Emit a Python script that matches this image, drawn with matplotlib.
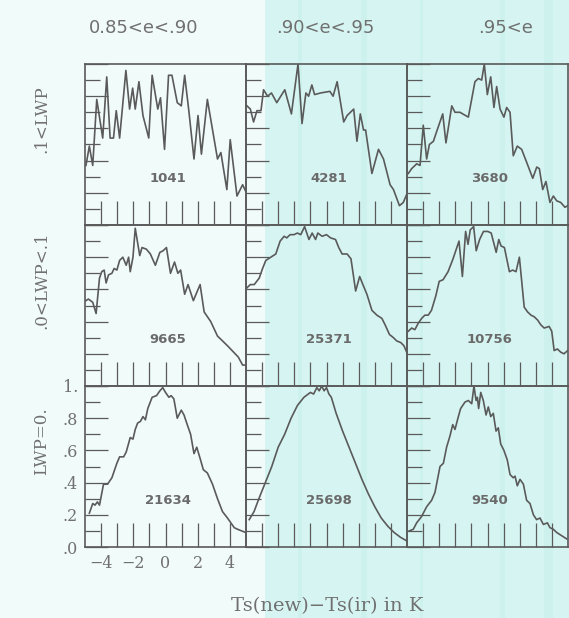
import numpy as np
import matplotlib.pyplot as plt
from matplotlib.patches import Rectangle

plt.rcParams['font.family'] = 'DejaVu Serif'
plt.rcParams['font.size'] = 11

INK = '#5a5a5a'
TXT = '#707070'

# ---------------------------------------------------------------------------
# normalised histograms of Ts(new)-Ts(ir)
# rows: .1<LWP, .0<LWP<.1, LWP=0.   columns: emissivity classes
# ---------------------------------------------------------------------------
col_titles = ['0.85<e<.90', '.90<e<.95', '.95<e']
col_title_x = [144, 325, 506]          # pixel centres of the titles
row_labels = ['.1<LWP', '.0<LWP<.1', 'LWP=0.']
counts = [['1041', '4281', '3680'],
          ['9665', '25371', '10756'],
          ['21634', '25698', '9540']]

# top row (.1<LWP)
a1_x = [-4.94, -4.73, -4.52, -4.27, -3.90, -3.65, -3.44, -3.23, -3.06, -2.85,
        -2.46, -2.23, -2.04, -1.88, -1.65, -1.40, -1.04, -0.83, -0.48, -0.31,
        -0.06, 0.19, 0.40, 0.73, 0.98, 1.19, 1.46, 1.77, 2.02, 2.23,
        2.60, 3.23, 3.44, 3.81, 4.02, 4.44, 4.79, 4.98]
a1_y = [0.37, 0.49, 0.37, 0.78, 0.54, 0.92, 0.54, 0.54, 0.71, 0.54,
        0.96, 0.72, 0.85, 0.72, 0.89, 0.68, 0.54, 0.93, 0.72, 0.79,
        0.47, 0.93, 0.93, 0.76, 0.74, 0.93, 0.70, 0.41, 0.68, 0.44,
        0.78, 0.41, 0.45, 0.22, 0.53, 0.18, 0.25, 0.21]
a2_x = [-4.94, -4.73, -4.53, -4.32, -4.07, -3.91, -3.66, -3.42, -3.09, -2.59,
        -2.18, -1.77, -1.52, -1.28, -1.11, -0.91, -0.74, -0.37, 0.21, 0.41,
        0.66, 1.07, 1.28, 1.69, 1.89, 2.10, 2.30, 2.43, 2.82, 3.23,
        3.54, 3.95, 4.16, 4.53, 4.77, 4.98]
a2_y = [0.74, 0.72, 0.64, 0.71, 0.71, 0.84, 0.80, 0.82, 0.76, 0.84,
        0.69, 1.00, 0.63, 0.82, 0.80, 0.87, 0.81, 0.82, 0.83, 0.80,
        0.89, 0.64, 0.68, 0.72, 0.52, 0.69, 0.59, 0.59, 0.32, 0.47,
        0.41, 0.25, 0.22, 0.12, 0.14, 0.19]
a3_x = [-4.92, -4.71, -4.40, -4.19, -3.99, -3.78, -3.61, -3.36, -3.16, -2.78,
        -2.58, -2.22, -2.02, -1.71, -1.19, -0.78, -0.57, -0.36, -0.20, -0.01,
        0.20, 0.40, 0.57, 0.78, 1.02, 1.19, 1.40, 1.60, 1.85, 2.12,
        2.43, 2.81, 3.06, 3.22, 3.43, 3.63, 3.88, 4.09, 4.30, 4.55,
        4.81, 4.98]
a3_y = [0.32, 0.35, 0.38, 0.37, 0.62, 0.41, 0.50, 0.52, 0.58, 0.69,
        0.51, 0.74, 0.70, 0.70, 0.67, 0.89, 0.91, 0.90, 1.00, 0.81,
        0.92, 0.73, 0.86, 0.72, 0.67, 0.73, 0.70, 0.43, 0.49, 0.47,
        0.39, 0.29, 0.36, 0.35, 0.22, 0.27, 0.14, 0.18, 0.15, 0.14,
        0.11, 0.12]

# middle row (.0<LWP<.1)
b1_x = [-4.94, -4.79, -4.52, -4.31, -4.10, -3.96, -3.81, -3.69, -3.54, -3.33,
        -3.19, -3.02, -2.85, -2.65, -2.44, -2.29, -2.19, -2.02, -1.88, -1.60,
        -1.46, -1.19, -0.94, -0.63, -0.35, -0.15, 0.06, 0.31, 0.56, 0.77,
        0.94, 1.19, 1.40, 1.73, 1.98, 2.15, 2.40, 2.81, 3.23, 3.44,
        3.85, 4.23, 4.52, 4.79, 4.98]
b1_y = [0.53, 0.54, 0.52, 0.45, 0.67, 0.71, 0.72, 0.64, 0.69, 0.70,
        0.73, 0.72, 0.78, 0.80, 0.75, 0.80, 0.71, 0.80, 0.98, 0.81,
        0.86, 0.85, 0.82, 0.75, 0.83, 0.84, 0.86, 0.70, 0.77, 0.70,
        0.72, 0.57, 0.63, 0.53, 0.59, 0.63, 0.46, 0.40, 0.31, 0.29,
        0.25, 0.21, 0.18, 0.13, 0.13]
b2_x = [-4.94, -4.73, -4.49, -4.18, -3.97, -3.77, -3.46, -3.15, -2.88, -2.63,
        -2.47, -2.26, -2.02, -1.81, -1.60, -1.36, -1.09, -0.89, -0.68, -0.54,
        -0.27, 0.00, 0.25, 0.56, 0.76, 0.97, 1.28, 1.52, 1.81, 2.06,
        2.26, 2.51, 2.82, 3.13, 3.44, 3.64, 3.91, 4.16, 4.36, 4.61,
        4.81, 4.98]
b2_y = [0.61, 0.63, 0.63, 0.67, 0.73, 0.78, 0.80, 0.82, 0.90, 0.93,
        0.92, 0.94, 0.94, 0.95, 0.94, 0.99, 0.91, 0.95, 0.91, 0.95,
        0.93, 0.94, 0.92, 0.91, 0.86, 0.82, 0.82, 0.79, 0.59, 0.68,
        0.63, 0.57, 0.47, 0.44, 0.42, 0.38, 0.32, 0.30, 0.28, 0.27,
        0.25, 0.21]
b3_x = [-4.92, -4.71, -4.51, -4.30, -4.09, -3.89, -3.68, -3.48, -3.21, -3.00,
        -2.76, -2.45, -2.14, -1.77, -1.56, -1.36, -1.21, -1.07, -0.86, -0.70,
        -0.49, -0.25, 0.02, 0.23, 0.54, 0.70, 0.84, 1.05, 1.36, 1.56,
        1.77, 1.98, 2.28, 2.49, 2.70, 2.90, 3.11, 3.31, 3.52, 3.83,
        3.99, 4.14, 4.34, 4.55, 4.75, 4.98]
b3_y = [0.34, 0.36, 0.35, 0.39, 0.42, 0.44, 0.44, 0.47, 0.56, 0.65,
        0.66, 0.71, 0.79, 0.90, 0.68, 0.96, 0.88, 0.97, 0.99, 0.84,
        0.91, 0.96, 0.96, 0.95, 0.83, 0.91, 0.87, 0.86, 0.71, 0.72,
        0.71, 0.80, 0.49, 0.46, 0.44, 0.43, 0.41, 0.38, 0.36, 0.37,
        0.34, 0.22, 0.23, 0.21, 0.20, 0.22]

# bottom row (LWP=0.)
c1_x = [-4.73, -4.52, -4.38, -4.23, -4.10, -3.85, -3.60, -3.33, -3.02, -2.85,
        -2.60, -2.44, -2.19, -2.02, -1.88, -1.73, -1.56, -1.40, -1.25, -1.10,
        -0.83, -0.56, -0.35, -0.17, 0.00, 0.21, 0.35, 0.52, 0.73, 0.98,
        1.15, 1.35, 1.56, 1.77, 1.94, 2.15, 2.35, 2.60, 2.92, 3.23,
        3.54, 3.85, 4.06, 4.27, 4.48, 4.73, 4.98]
c1_y = [0.21, 0.27, 0.26, 0.28, 0.26, 0.39, 0.39, 0.43, 0.52, 0.56,
        0.56, 0.59, 0.68, 0.67, 0.73, 0.77, 0.78, 0.81, 0.79, 0.86,
        0.93, 0.94, 0.97, 0.99, 0.96, 0.93, 0.94, 0.92, 0.80, 0.85,
        0.82, 0.76, 0.70, 0.58, 0.62, 0.55, 0.48, 0.46, 0.39, 0.30,
        0.22, 0.18, 0.15, 0.12, 0.11, 0.10, 0.09]
c2_x = [-4.80, -4.50, -4.20, -3.80, -3.40, -3.00, -2.60, -2.20, -1.80, -1.40,
        -1.00, -0.80, -0.60, -0.45, -0.30, -0.15, 0.00, 0.15, 0.30, 0.60,
        1.00, 1.40, 1.80, 2.20, 2.60, 3.00, 3.40, 3.80, 4.20, 4.60, 4.95]
c2_y = [0.17, 0.22, 0.30, 0.40, 0.50, 0.62, 0.70, 0.80, 0.88, 0.93,
        0.96, 0.95, 0.99, 0.97, 1.00, 0.97, 0.99, 0.95, 0.93, 0.83,
        0.72, 0.62, 0.52, 0.42, 0.33, 0.25, 0.18, 0.13, 0.09, 0.06, 0.04]
c3_x = [-4.86, -4.61, -4.40, -4.09, -3.78, -3.47, -3.26, -2.95, -2.74, -2.54,
        -2.33, -2.16, -2.02, -1.81, -1.67, -1.40, -1.19, -0.98, -0.84, -0.71,
        -0.63, -0.55, -0.42, -0.26, -0.09, 0.05, 0.20, 0.36, 0.53, 0.67,
        0.82, 1.02, 1.23, 1.40, 1.60, 1.71, 1.85, 2.02, 2.23, 2.43,
        2.64, 2.85, 3.05, 3.26, 3.47, 3.72, 3.88, 4.09, 4.30, 4.61,
        4.92]
c3_y = [0.10, 0.11, 0.15, 0.19, 0.25, 0.29, 0.34, 0.50, 0.52, 0.62,
        0.69, 0.76, 0.73, 0.81, 0.86, 0.90, 0.91, 0.89, 1.00, 0.91,
        0.93, 0.86, 0.96, 0.91, 0.82, 0.87, 0.81, 0.83, 0.72, 0.74,
        0.64, 0.60, 0.54, 0.45, 0.43, 0.44, 0.38, 0.42, 0.39, 0.29,
        0.27, 0.20, 0.17, 0.18, 0.14, 0.15, 0.12, 0.11, 0.09, 0.07,
        0.05]

curves = [[(a1_x, a1_y), (a2_x, a2_y), (a3_x, a3_y)],
          [(b1_x, b1_y), (b2_x, b2_y), (b3_x, b3_y)],
          [(c1_x, c1_y), (c2_x, c2_y), (c3_x, c3_y)]]

x_ticks = [-4, -3, -2, -1, 0, 1, 2, 3, 4]
x_ticklabels = ['\u22124', '', '\u22122', '', '0', '', '2', '', '4']
y_major = [0.0, 0.2, 0.4, 0.6, 0.8, 1.0]
y_minor = [0.1, 0.3, 0.5, 0.7, 0.9]
y_ticklabels = ['.0', '.2', '.4', '.6', '.8', '1.']

# ---------------------------------------------------------------------------
# figure: 569 x 618 px, scanned-paper background
# ---------------------------------------------------------------------------
W, H = 569, 618
fig = plt.figure(figsize=(W/100, H/100), dpi=100)
fig.patch.set_facecolor('#f1fbf9')
fig.patches.append(Rectangle((265/W, 0), 1 - 265/W, 1, transform=fig.transFigure,
                             facecolor='#d6f5f2', edgecolor='none', zorder=-10))
for sx, sw in [(298, 4), (361, 6), (420, 3), (500, 5), (544, 9)]:
    fig.patches.append(Rectangle((sx/W, 0), sw/W, 1, transform=fig.transFigure,
                                 facecolor='#cdf2ee', edgecolor='none',
                                 zorder=-9))

col_left = [85, 246, 407]
row_top = [64, 225, 386]
pw, ph = 161, 161

for i in range(3):
    for j in range(3):
        ax = fig.add_axes([col_left[j]/W, (H - row_top[i] - ph)/H, pw/W, ph/H])
        ax.set_facecolor('none')
        cx, cy = curves[i][j]
        ax.plot(cx, cy, color=INK, lw=1.2)
        ax.set_xlim(-5, 5)
        ax.set_ylim(0, 1)
        for s in ax.spines.values():
            s.set_color(INK)
            s.set_linewidth(1.2)
        ax.set_xticks(x_ticks)
        ax.set_yticks(y_major)
        ax.set_yticks(y_minor, minor=True)
        ax.tick_params(axis='x', direction='in', length=17, width=0.9,
                       color=INK, labelcolor=TXT, labelsize=11.5, pad=6)
        ax.tick_params(axis='y', which='major', direction='in', length=16.5,
                       width=0.9, color=INK, labelcolor=TXT, labelsize=11.5,
                       pad=5)
        ax.tick_params(axis='y', which='minor', direction='in', length=10.5,
                       width=0.9, color=INK)
        ax.tick_params(axis='x', which='minor', bottom=False)
        if i == 2 and j == 0:
            ax.set_xticklabels(x_ticklabels)
            ax.set_yticklabels(y_ticklabels)
        else:
            ax.set_xticklabels([])
            ax.set_yticklabels([])
        ax.text(0.15, 0.29, counts[i][j], ha='center', va='center',
                fontsize=9.5, color='#6a6a6a', family='DejaVu Sans',
                fontweight='bold')

for title, tx in zip(col_titles, col_title_x):
    fig.text(tx/W, 1 - 28/H, title, ha='center', va='center',
             fontsize=13, color=TXT, family='DejaVu Sans')

for lab, i in zip(row_labels, range(3)):
    fig.text(42/W, 1 - (row_top[i] + 0.34*ph)/H, lab, ha='center',
             va='center', rotation=90, fontsize=12, color=TXT)

fig.text(327/W, 1 - 606/H, 'Ts(new)\u2212Ts(ir) in K', ha='center',
         va='center', fontsize=14, color=TXT)

fig.savefig('out.png', dpi=100, facecolor=fig.get_facecolor())
